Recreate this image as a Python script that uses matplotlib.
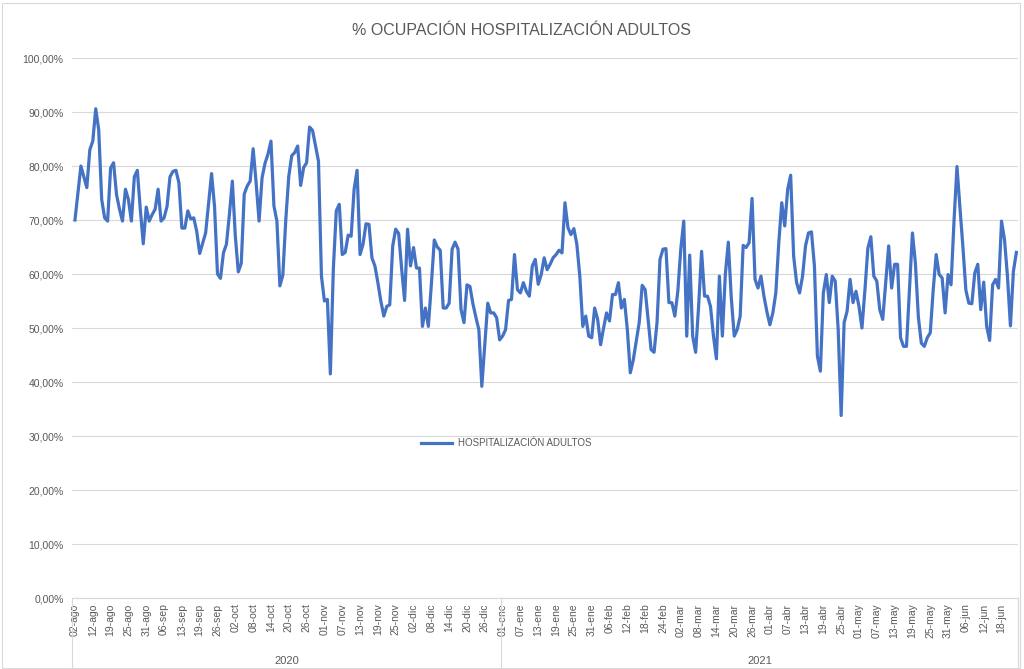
import numpy as np
import matplotlib
matplotlib.use("Agg")
import matplotlib.pyplot as plt
from matplotlib.patches import Rectangle
from matplotlib.ticker import FuncFormatter, MultipleLocator

plt.rcParams['font.family'] = ['Liberation Sans', 'DejaVu Sans']

# % ocupación diaria (02-ago-2020 .. 23-jun-2021, días disponibles)
ocupacion = [
    70, 75, 80, 78, 76, 83, 84.6, 90.6, 86.7, 73.8,
    70.4, 69.8, 79.6, 80.6, 74.7, 72, 69.8, 75.7, 73.8, 69.8,
    78, 79.2, 72, 65.6, 72.4, 69.8, 71, 72, 75.7, 69.8,
    70.4, 72.5, 78, 79, 79.2, 76.9, 68.5, 68.5, 71.7, 70.2,
    70.4, 67.9, 63.8, 65.7, 67.6, 73, 78.6, 72.5, 60, 59.2,
    63.9, 65.5, 71, 77.2, 67, 60.4, 62, 74.8, 76.3, 77.2,
    83.2, 76.9, 69.8, 77.8, 80.5, 82.2, 84.6, 72.6, 69.8, 57.8,
    59.8, 70.1, 78.1, 81.9, 82.5, 83.7, 76.4, 79.7, 80.6, 87.2,
    86.6, 83.7, 80.9, 59.6, 55, 55.3, 41.5, 60.9, 71.7, 72.9,
    63.6, 64, 67.2, 67, 75.7, 79.2, 63.6, 65.5, 69.3, 69.2,
    63, 61.5, 58.4, 55, 52.2, 54, 54.3, 65.2, 68.3, 67.5,
    61, 55.1, 68.3, 61.5, 64.9, 61.1, 61.1, 50.3, 53.7, 50.3,
    58, 66.3, 65, 64.4, 53.7, 53.7, 54.6, 64.6, 65.9, 64.6,
    53.4, 51, 58, 57.7, 54.5, 52, 49.7, 39.2, 47, 54.6,
    52.8, 52.8, 51.9, 47.8, 48.5, 49.7, 55.1, 55.3, 63.6, 57.1,
    56.5, 58.4, 56.8, 55.9, 61.5, 62.7, 58.1, 59.9, 63, 60.8,
    61.8, 63, 63.6, 64.4, 63.9, 73.2, 68.6, 67.3, 68.4, 65.5,
    59.6, 50.3, 52.2, 48.5, 48.2, 53.7, 51.6, 46.9, 50, 52.8,
    51.3, 56.2, 56.2, 58.4, 53.7, 55.3, 49.7, 41.7, 44.1, 47.5,
    51, 57.9, 57.1, 51.6, 46, 45.5, 51, 62.7, 64.6, 64.7,
    54.7, 54.7, 52.2, 56.8, 64.6, 69.8, 48.5, 63.5, 48.5, 45.5,
    54, 64.2, 55.9, 55.9, 54, 48.5, 44.3, 59.6, 48.5, 59.9,
    65.9, 55.6, 48.5, 49.7, 52.2, 65.3, 64.9, 65.8, 74, 59,
    57.4, 59.6, 55.9, 53, 50.6, 52.8, 56.5, 65.8, 73.2, 68.9,
    75.7, 78.3, 63.3, 58.4, 56.5, 59.6, 65.2, 67.6, 67.8, 61.5,
    44.8, 42, 56.5, 59.9, 54.7, 59.6, 58.7, 49.7, 33.8, 51,
    53.1, 59, 54.7, 56.8, 54, 50, 57, 64.8, 66.9, 59.6,
    58.7, 53.4, 51.6, 58.4, 65.2, 57.4, 61.8, 61.8, 48.2, 46.6,
    46.6, 57.1, 67.6, 62, 52, 47.2, 46.6, 48.2, 49.1, 57.1,
    63.6, 59.9, 59.3, 52.8, 59.9, 58, 69.8, 79.9, 72.3, 65,
    57, 54.6, 54.5, 60.2, 61.8, 53.4, 58.5, 50.3, 47.7, 58,
    59, 57.4, 69.8, 66.4, 59.6, 50.4, 60.5, 64,
]

etiquetas = [
    '02-ago', '12-ago', '19-ago', '25-ago', '31-ago',
    '06-sep', '13-sep', '19-sep', '26-sep',
    '02-oct', '08-oct', '14-oct', '20-oct', '26-oct',
    '01-nov', '07-nov', '13-nov', '19-nov', '25-nov',
    '02-dic', '08-dic', '14-dic', '20-dic', '26-dic',
    '01-ene', '07-ene', '13-ene', '19-ene', '25-ene', '31-ene',
    '06-feb', '12-feb', '18-feb', '24-feb',
    '02-mar', '08-mar', '14-mar', '20-mar', '26-mar',
    '01-abr', '07-abr', '13-abr', '19-abr', '25-abr',
    '01-may', '07-may', '13-may', '19-may', '25-may', '31-may',
    '06-jun', '12-jun', '18-jun',
]
anios = ['2020', '2021']
n_2020 = 144  # días de 2020 en la serie

gris = '#595959'
azul = '#4472C4'

# %%
fig = plt.figure(figsize=(10.24, 6.69), dpi=100)
ax = fig.add_axes([0.0703, 0.1061, 0.9237, 0.8072])

x = np.arange(len(ocupacion))
ax.plot(x, ocupacion, color=azul, linewidth=2.3, label='HOSPITALIZACIÓN ADULTOS',
        solid_joinstyle='round')

ax.set_ylim(0, 100)
ax.set_xlim(-1, len(ocupacion) - 0.5)
ax.yaxis.set_major_locator(MultipleLocator(10))
ax.yaxis.set_major_formatter(FuncFormatter(lambda v, p: f"{v:.2f}%".replace('.', ',')))
ax.grid(axis='y', color='#D9D9D9', linewidth=0.8)
ax.set_axisbelow(True)

ax.set_xticks(np.arange(len(etiquetas)) * 6)
ax.set_xticklabels(etiquetas, rotation=90)
ax.tick_params(axis='both', length=0, labelsize=7.5, labelcolor=gris)
ax.tick_params(axis='y', pad=6)
ax.tick_params(axis='x', pad=4)

for s in ['top', 'right', 'left']:
    ax.spines[s].set_visible(False)
ax.spines['bottom'].set_color('#D9D9D9')

# Two-level category axis (years)
trans = ax.get_xaxis_transform()
xl = ax.get_xlim()
bordes = [xl[0], n_2020 - 0.5, xl[1]]
for b in bordes:
    ax.plot([b, b], [0, -0.135], color='#D9D9D9', linewidth=0.8, transform=trans, clip_on=False)
for k, anio in enumerate(anios):
    ax.text((bordes[k] + bordes[k + 1]) / 2, -0.117, anio, transform=trans,
            ha='center', va='center', fontsize=8, color=gris)

fig.text(0.509, 0.955, '% OCUPACIÓN HOSPITALIZACIÓN ADULTOS', fontsize=11.5, color=gris,
         ha='center', va='center')

leg = ax.legend(loc='center', bbox_to_anchor=(0.459, 0.287), frameon=False,
                fontsize=7, handlelength=3.2, handletextpad=0.6)
for t in leg.get_texts():
    t.set_color(gris)

fig.patches.append(Rectangle((0.002, 0.002), 0.994, 0.994, transform=fig.transFigure,
                             fill=False, edgecolor='#D9D9D9', linewidth=0.8))

plt.savefig('out.png', dpi=100)
plt.close(fig)
